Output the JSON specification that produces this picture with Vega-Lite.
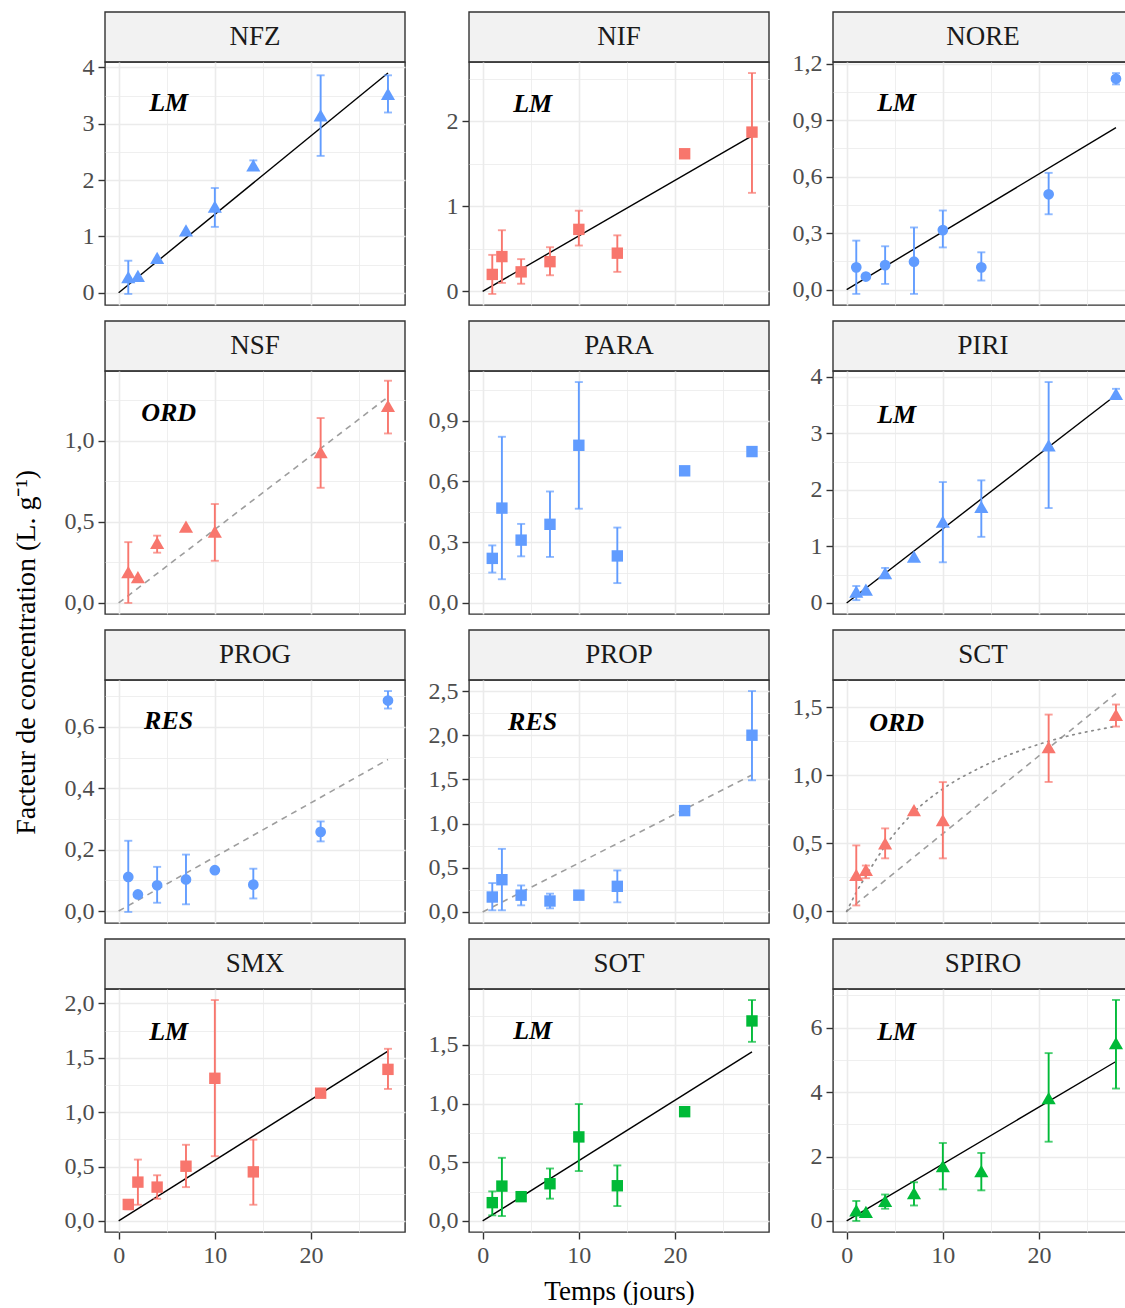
{
"$schema": "https://vega.github.io/schema/vega-lite/v6.json",
"padding": {"left": 13, "top": 0, "right": 0, "bottom": 0},
"title": {"text": "Facteur de concentration (L. g⁻¹)", "orient": "left", "anchor": "middle", "font": "Liberation Serif", "fontSize": 28, "fontWeight": "normal", "color": "#000000", "offset": 22},
"datasets": {
"p": [{"c":"NFZ"},{"c":"NIF"},{"c":"NORE"},{"c":"NSF"},{"c":"PARA"},{"c":"PIRI"},{"c":"PROG"},{"c":"PROP"},{"c":"SCT"},{"c":"SMX"},{"c":"SOT"},{"c":"SPIRO"}],
"d": [
{"c":"NFZ","k":"obs","t":1,"v":0.28,"lo":-0.02,"hi":0.57},
{"c":"NFZ","k":"obs","t":2,"v":0.30},
{"c":"NFZ","k":"obs","t":4,"v":0.62},
{"c":"NFZ","k":"obs","t":7,"v":1.11},
{"c":"NFZ","k":"obs","t":10,"v":1.53,"lo":1.17,"hi":1.86},
{"c":"NFZ","k":"obs","t":14,"v":2.26,"lo":2.21,"hi":2.35},
{"c":"NFZ","k":"obs","t":21,"v":3.15,"lo":2.43,"hi":3.86},
{"c":"NFZ","k":"obs","t":28,"v":3.53,"lo":3.2,"hi":3.86},
{"c":"NFZ","k":"fit","m":"lm","t":0,"v":0},
{"c":"NFZ","k":"fit","m":"lm","t":28,"v":3.9},
{"c":"NFZ","k":"lab","t":5.2,"v":3.37,"txt":"LM"},
{"c":"NIF","k":"obs","t":1,"v":0.2,"lo":-0.03,"hi":0.43},
{"c":"NIF","k":"obs","t":2,"v":0.41,"lo":0.1,"hi":0.72},
{"c":"NIF","k":"obs","t":4,"v":0.23,"lo":0.09,"hi":0.38},
{"c":"NIF","k":"obs","t":7,"v":0.35,"lo":0.19,"hi":0.52},
{"c":"NIF","k":"obs","t":10,"v":0.73,"lo":0.54,"hi":0.95},
{"c":"NIF","k":"obs","t":14,"v":0.45,"lo":0.23,"hi":0.66},
{"c":"NIF","k":"obs","t":21,"v":1.62},
{"c":"NIF","k":"obs","t":28,"v":1.875,"lo":1.16,"hi":2.57},
{"c":"NIF","k":"fit","m":"lm","t":0,"v":0},
{"c":"NIF","k":"fit","m":"lm","t":28,"v":1.83},
{"c":"NIF","k":"lab","t":5.2,"v":2.21,"txt":"LM"},
{"c":"NORE","k":"obs","t":1,"v":0.118,"lo":-0.023,"hi":0.26},
{"c":"NORE","k":"obs","t":2,"v":0.069},
{"c":"NORE","k":"obs","t":4,"v":0.13,"lo":0.03,"hi":0.23},
{"c":"NORE","k":"obs","t":7,"v":0.148,"lo":-0.023,"hi":0.33},
{"c":"NORE","k":"obs","t":10,"v":0.316,"lo":0.224,"hi":0.42},
{"c":"NORE","k":"obs","t":14,"v":0.118,"lo":0.048,"hi":0.198},
{"c":"NORE","k":"obs","t":21,"v":0.506,"lo":0.4,"hi":0.62},
{"c":"NORE","k":"obs","t":28,"v":1.12,"lo":1.09,"hi":1.15},
{"c":"NORE","k":"fit","m":"lm","t":0,"v":0},
{"c":"NORE","k":"fit","m":"lm","t":28,"v":0.86},
{"c":"NORE","k":"lab","t":5.2,"v":0.99,"txt":"LM"},
{"c":"NSF","k":"obs","t":1,"v":0.19,"lo":0.0,"hi":0.375},
{"c":"NSF","k":"obs","t":2,"v":0.16},
{"c":"NSF","k":"obs","t":4,"v":0.37,"lo":0.31,"hi":0.415},
{"c":"NSF","k":"obs","t":7,"v":0.47},
{"c":"NSF","k":"obs","t":10,"v":0.44,"lo":0.26,"hi":0.61},
{"c":"NSF","k":"obs","t":21,"v":0.93,"lo":0.71,"hi":1.14},
{"c":"NSF","k":"obs","t":28,"v":1.215,"lo":1.045,"hi":1.37},
{"c":"NSF","k":"fit","m":"dash","t":0,"v":0},
{"c":"NSF","k":"fit","m":"dash","t":28,"v":1.27},
{"c":"NSF","k":"lab","t":5.2,"v":1.17,"txt":"ORD"},
{"c":"PARA","k":"obs","t":1,"v":0.22,"lo":0.15,"hi":0.284},
{"c":"PARA","k":"obs","t":2,"v":0.468,"lo":0.117,"hi":0.82},
{"c":"PARA","k":"obs","t":4,"v":0.31,"lo":0.23,"hi":0.39},
{"c":"PARA","k":"obs","t":7,"v":0.388,"lo":0.227,"hi":0.55},
{"c":"PARA","k":"obs","t":10,"v":0.778,"lo":0.465,"hi":1.09},
{"c":"PARA","k":"obs","t":14,"v":0.232,"lo":0.098,"hi":0.372},
{"c":"PARA","k":"obs","t":21,"v":0.652},
{"c":"PARA","k":"obs","t":28,"v":0.747},
{"c":"PIRI","k":"obs","t":1,"v":0.2,"lo":0.05,"hi":0.3},
{"c":"PIRI","k":"obs","t":2,"v":0.235},
{"c":"PIRI","k":"obs","t":4,"v":0.53,"lo":0.44,"hi":0.62},
{"c":"PIRI","k":"obs","t":7,"v":0.82},
{"c":"PIRI","k":"obs","t":10,"v":1.44,"lo":0.72,"hi":2.14},
{"c":"PIRI","k":"obs","t":14,"v":1.7,"lo":1.17,"hi":2.17},
{"c":"PIRI","k":"obs","t":21,"v":2.79,"lo":1.68,"hi":3.91},
{"c":"PIRI","k":"obs","t":28,"v":3.7,"lo":3.61,"hi":3.79},
{"c":"PIRI","k":"fit","m":"lm","t":0,"v":0},
{"c":"PIRI","k":"fit","m":"lm","t":28,"v":3.68},
{"c":"PIRI","k":"lab","t":5.2,"v":3.32,"txt":"LM"},
{"c":"PROG","k":"obs","t":1,"v":0.111,"lo":-0.003,"hi":0.229},
{"c":"PROG","k":"obs","t":2,"v":0.054},
{"c":"PROG","k":"obs","t":4,"v":0.084,"lo":0.027,"hi":0.144},
{"c":"PROG","k":"obs","t":7,"v":0.103,"lo":0.022,"hi":0.184},
{"c":"PROG","k":"obs","t":10,"v":0.133},
{"c":"PROG","k":"obs","t":14,"v":0.086,"lo":0.041,"hi":0.138},
{"c":"PROG","k":"obs","t":21,"v":0.258,"lo":0.227,"hi":0.292},
{"c":"PROG","k":"obs","t":28,"v":0.686,"lo":0.66,"hi":0.717},
{"c":"PROG","k":"fit","m":"dash","t":0,"v":0},
{"c":"PROG","k":"fit","m":"dash","t":28,"v":0.494},
{"c":"PROG","k":"lab","t":5.2,"v":0.619,"txt":"RES"},
{"c":"PROP","k":"obs","t":1,"v":0.169,"lo":0.019,"hi":0.327},
{"c":"PROP","k":"obs","t":2,"v":0.365,"lo":0.019,"hi":0.714},
{"c":"PROP","k":"obs","t":4,"v":0.19,"lo":0.075,"hi":0.3},
{"c":"PROP","k":"obs","t":7,"v":0.124,"lo":0.041,"hi":0.207},
{"c":"PROP","k":"obs","t":10,"v":0.19},
{"c":"PROP","k":"obs","t":14,"v":0.29,"lo":0.109,"hi":0.47},
{"c":"PROP","k":"obs","t":21,"v":1.147},
{"c":"PROP","k":"obs","t":28,"v":2.0,"lo":1.49,"hi":2.5},
{"c":"PROP","k":"fit","m":"dash","t":0,"v":0},
{"c":"PROP","k":"fit","m":"dash","t":28,"v":1.55},
{"c":"PROP","k":"lab","t":5.2,"v":2.15,"txt":"RES"},
{"c":"SCT","k":"obs","t":1,"v":0.268,"lo":0.044,"hi":0.485},
{"c":"SCT","k":"obs","t":2,"v":0.305,"lo":0.244,"hi":0.337},
{"c":"SCT","k":"obs","t":4,"v":0.5,"lo":0.39,"hi":0.61},
{"c":"SCT","k":"obs","t":7,"v":0.744},
{"c":"SCT","k":"obs","t":10,"v":0.67,"lo":0.39,"hi":0.95},
{"c":"SCT","k":"obs","t":21,"v":1.207,"lo":0.951,"hi":1.446},
{"c":"SCT","k":"obs","t":28,"v":1.444,"lo":1.358,"hi":1.52},
{"c":"SCT","k":"fit","m":"dash","t":0,"v":0},
{"c":"SCT","k":"fit","m":"dash","t":28,"v":1.6},
{"c":"SCT","k":"fit","m":"dot","t":0,"v":0},
{"c":"SCT","k":"fit","m":"dot","t":1,"v":0.14},
{"c":"SCT","k":"fit","m":"dot","t":2,"v":0.26},
{"c":"SCT","k":"fit","m":"dot","t":4,"v":0.48},
{"c":"SCT","k":"fit","m":"dot","t":7,"v":0.73},
{"c":"SCT","k":"fit","m":"dot","t":10,"v":0.9},
{"c":"SCT","k":"fit","m":"dot","t":14,"v":1.06},
{"c":"SCT","k":"fit","m":"dot","t":21,"v":1.25},
{"c":"SCT","k":"fit","m":"dot","t":28,"v":1.36},
{"c":"SCT","k":"lab","t":5.2,"v":1.385,"txt":"ORD"},
{"c":"SMX","k":"obs","t":1,"v":0.152,"lo":0.107,"hi":0.19},
{"c":"SMX","k":"obs","t":2,"v":0.357,"lo":0.149,"hi":0.564},
{"c":"SMX","k":"obs","t":4,"v":0.311,"lo":0.204,"hi":0.42},
{"c":"SMX","k":"obs","t":7,"v":0.503,"lo":0.311,"hi":0.7},
{"c":"SMX","k":"obs","t":10,"v":1.311,"lo":0.595,"hi":2.03},
{"c":"SMX","k":"obs","t":14,"v":0.451,"lo":0.149,"hi":0.747},
{"c":"SMX","k":"obs","t":21,"v":1.174},
{"c":"SMX","k":"obs","t":28,"v":1.393,"lo":1.213,"hi":1.582},
{"c":"SMX","k":"fit","m":"lm","t":0,"v":0},
{"c":"SMX","k":"fit","m":"lm","t":28,"v":1.56},
{"c":"SMX","k":"lab","t":5.2,"v":1.74,"txt":"LM"},
{"c":"SOT","k":"obs","t":1,"v":0.156,"lo":0.048,"hi":0.252},
{"c":"SOT","k":"obs","t":2,"v":0.297,"lo":0.042,"hi":0.538},
{"c":"SOT","k":"obs","t":4,"v":0.207,"lo":0.17,"hi":0.24},
{"c":"SOT","k":"obs","t":7,"v":0.317,"lo":0.19,"hi":0.447},
{"c":"SOT","k":"obs","t":10,"v":0.716,"lo":0.425,"hi":0.996},
{"c":"SOT","k":"obs","t":14,"v":0.3,"lo":0.127,"hi":0.473},
{"c":"SOT","k":"obs","t":21,"v":0.931},
{"c":"SOT","k":"obs","t":28,"v":1.704,"lo":1.526,"hi":1.882},
{"c":"SOT","k":"fit","m":"lm","t":0,"v":0},
{"c":"SOT","k":"fit","m":"lm","t":28,"v":1.44},
{"c":"SOT","k":"lab","t":5.2,"v":1.615,"txt":"LM"},
{"c":"SPIRO","k":"obs","t":1,"v":0.33,"lo":0.0,"hi":0.62},
{"c":"SPIRO","k":"obs","t":2,"v":0.28},
{"c":"SPIRO","k":"obs","t":4,"v":0.62,"lo":0.38,"hi":0.82},
{"c":"SPIRO","k":"obs","t":7,"v":0.86,"lo":0.48,"hi":1.2},
{"c":"SPIRO","k":"obs","t":10,"v":1.7,"lo":0.98,"hi":2.42},
{"c":"SPIRO","k":"obs","t":14,"v":1.55,"lo":0.95,"hi":2.11},
{"c":"SPIRO","k":"obs","t":21,"v":3.81,"lo":2.46,"hi":5.21},
{"c":"SPIRO","k":"obs","t":28,"v":5.52,"lo":4.11,"hi":6.86},
{"c":"SPIRO","k":"fit","m":"lm","t":0,"v":0},
{"c":"SPIRO","k":"fit","m":"lm","t":28,"v":4.95},
{"c":"SPIRO","k":"lab","t":5.2,"v":5.87,"txt":"LM"}
]},
"columns": 3,
"spacing": {"row": 0, "column": 64},
"bounds": "flush",
"align": "each",
"concat": [
{"width": 300, "height": 62, "view": {"stroke": null}, "data": {"name": "p"}, "transform": [{"filter": "datum.c==='NFZ'"}], "layer": [
 {"mark": {"type": "rect", "fill": "#F2F2F2", "stroke": "#333333", "strokeWidth": 1.4}, "encoding": {"x": {"datum": 0, "type": "quantitative", "scale": {"domain": [0, 1], "nice": false}, "axis": null}, "x2": {"datum": 1}, "y": {"datum": 0, "type": "quantitative", "scale": {"domain": [0, 62], "nice": false}, "axis": null}, "y2": {"datum": 50}}},
 {"mark": {"type": "text", "fontSize": 27, "color": "#1A1A1A", "align": "center", "baseline": "middle"}, "encoding": {"y": {"datum": 25, "type": "quantitative"}, "text": {"field": "c"}}}]},
{"width": 300, "height": 62, "view": {"stroke": null}, "data": {"name": "p"}, "transform": [{"filter": "datum.c==='NIF'"}], "layer": [
 {"mark": {"type": "rect", "fill": "#F2F2F2", "stroke": "#333333", "strokeWidth": 1.4}, "encoding": {"x": {"datum": 0, "type": "quantitative", "scale": {"domain": [0, 1], "nice": false}, "axis": null}, "x2": {"datum": 1}, "y": {"datum": 0, "type": "quantitative", "scale": {"domain": [0, 62], "nice": false}, "axis": null}, "y2": {"datum": 50}}},
 {"mark": {"type": "text", "fontSize": 27, "color": "#1A1A1A", "align": "center", "baseline": "middle"}, "encoding": {"y": {"datum": 25, "type": "quantitative"}, "text": {"field": "c"}}}]},
{"width": 300, "height": 62, "view": {"stroke": null}, "data": {"name": "p"}, "transform": [{"filter": "datum.c==='NORE'"}], "layer": [
 {"mark": {"type": "rect", "fill": "#F2F2F2", "stroke": "#333333", "strokeWidth": 1.4}, "encoding": {"x": {"datum": 0, "type": "quantitative", "scale": {"domain": [0, 1], "nice": false}, "axis": null}, "x2": {"datum": 1}, "y": {"datum": 0, "type": "quantitative", "scale": {"domain": [0, 62], "nice": false}, "axis": null}, "y2": {"datum": 50}}},
 {"mark": {"type": "text", "fontSize": 27, "color": "#1A1A1A", "align": "center", "baseline": "middle"}, "encoding": {"y": {"datum": 25, "type": "quantitative"}, "text": {"field": "c"}}}]},
{"width": 300, "height": 243, "data": {"name": "d"}, "transform": [{"filter": "datum.c==='NFZ'"}],
  "encoding": {
   "x": {"field": "t", "type": "quantitative", "scale": {"domain": [-1.42, 29.77], "nice": false, "zero": false}, "axis": {"values": [0,5,10,15,20,25], "labels": false, "ticks": false, "title": null, "gridWidth": {"condition": {"test": "datum.value % 10 === 0", "value": 1.6}, "value": 0.8}}},
   "y": {"field": "v", "type": "quantitative", "scale": {"domain": [-0.216, 4.096], "nice": false, "zero": false}, "axis": {"title": null, "values": [0,0.5,1,1.5,2,2.5,3,3.5,4], "labelExpr": "abs(datum.value/1-round(datum.value/1))<0.01 ? format(datum.value,'d') : ''", "gridWidth": {"condition": {"test": "abs(datum.value/1-round(datum.value/1))<0.01", "value": 1.6}, "value": 0.8}, "tickOpacity": {"condition": {"test": "abs(datum.value/1-round(datum.value/1))<0.01", "value": 1}, "value": 0}}}
  },
  "layer": [
   {"transform": [{"filter": "datum.k==='fit' && datum.m==='lm'"}], "mark": {"type": "line", "color": "#000000", "strokeWidth": 1.4}, "encoding": {}},
   {"transform": [{"filter": "datum.k==='obs' && isValid(datum.lo)"}], "mark": {"type": "errorbar", "color": "#619CFF", "thickness": 1.9, "ticks": {"size": 8, "thickness": 1.9, "color": "#619CFF"}}, "encoding": {"y": {"field": "lo", "type": "quantitative", "title": null}, "y2": {"field": "hi"}}},
   {"transform": [{"filter": "datum.k==='obs'"}], "mark": {"type": "point", "shape": "triangle-up", "filled": true, "opacity": 1, "color": "#619CFF", "size": 200}},
   {"transform": [{"filter": "datum.k==='lab'"}], "mark": {"type": "text", "fontSize": 26, "fontStyle": "italic", "fontWeight": "bold", "color": "#000000", "align": "center", "baseline": "middle"}, "encoding": {"text": {"field": "txt"}}}
  ]},
{"width": 300, "height": 243, "data": {"name": "d"}, "transform": [{"filter": "datum.c==='NIF'"}],
  "encoding": {
   "x": {"field": "t", "type": "quantitative", "scale": {"domain": [-1.42, 29.77], "nice": false, "zero": false}, "axis": {"values": [0,5,10,15,20,25], "labels": false, "ticks": false, "title": null, "gridWidth": {"condition": {"test": "datum.value % 10 === 0", "value": 1.6}, "value": 0.8}}},
   "y": {"field": "v", "type": "quantitative", "scale": {"domain": [-0.16, 2.70], "nice": false, "zero": false}, "axis": {"title": null, "values": [0,0.5,1,1.5,2,2.5], "labelExpr": "abs(datum.value/1-round(datum.value/1))<0.01 ? format(datum.value,'d') : ''", "gridWidth": {"condition": {"test": "abs(datum.value/1-round(datum.value/1))<0.01", "value": 1.6}, "value": 0.8}, "tickOpacity": {"condition": {"test": "abs(datum.value/1-round(datum.value/1))<0.01", "value": 1}, "value": 0}}}
  },
  "layer": [
   {"transform": [{"filter": "datum.k==='fit' && datum.m==='lm'"}], "mark": {"type": "line", "color": "#000000", "strokeWidth": 1.4}, "encoding": {}},
   {"transform": [{"filter": "datum.k==='obs' && isValid(datum.lo)"}], "mark": {"type": "errorbar", "color": "#F8766D", "thickness": 1.9, "ticks": {"size": 8, "thickness": 1.9, "color": "#F8766D"}}, "encoding": {"y": {"field": "lo", "type": "quantitative", "title": null}, "y2": {"field": "hi"}}},
   {"transform": [{"filter": "datum.k==='obs'"}], "mark": {"type": "point", "shape": "square", "filled": true, "opacity": 1, "color": "#F8766D", "size": 130}},
   {"transform": [{"filter": "datum.k==='lab'"}], "mark": {"type": "text", "fontSize": 26, "fontStyle": "italic", "fontWeight": "bold", "color": "#000000", "align": "center", "baseline": "middle"}, "encoding": {"text": {"field": "txt"}}}
  ]},
{"width": 300, "height": 243, "data": {"name": "d"}, "transform": [{"filter": "datum.c==='NORE'"}],
  "encoding": {
   "x": {"field": "t", "type": "quantitative", "scale": {"domain": [-1.42, 29.77], "nice": false, "zero": false}, "axis": {"values": [0,5,10,15,20,25], "labels": false, "ticks": false, "title": null, "gridWidth": {"condition": {"test": "datum.value % 10 === 0", "value": 1.6}, "value": 0.8}}},
   "y": {"field": "v", "type": "quantitative", "scale": {"domain": [-0.082, 1.209], "nice": false, "zero": false}, "axis": {"title": null, "values": [0,0.15,0.3,0.45,0.6,0.75,0.9,1.05,1.2], "labelExpr": "abs(datum.value/0.3-round(datum.value/0.3))<0.01 ? replace(format(datum.value,'.1f'),'.',',') : ''", "gridWidth": {"condition": {"test": "abs(datum.value/0.3-round(datum.value/0.3))<0.01", "value": 1.6}, "value": 0.8}, "tickOpacity": {"condition": {"test": "abs(datum.value/0.3-round(datum.value/0.3))<0.01", "value": 1}, "value": 0}}}
  },
  "layer": [
   {"transform": [{"filter": "datum.k==='fit' && datum.m==='lm'"}], "mark": {"type": "line", "color": "#000000", "strokeWidth": 1.4}, "encoding": {}},
   {"transform": [{"filter": "datum.k==='obs' && isValid(datum.lo)"}], "mark": {"type": "errorbar", "color": "#619CFF", "thickness": 1.9, "ticks": {"size": 8, "thickness": 1.9, "color": "#619CFF"}}, "encoding": {"y": {"field": "lo", "type": "quantitative", "title": null}, "y2": {"field": "hi"}}},
   {"transform": [{"filter": "datum.k==='obs'"}], "mark": {"type": "point", "shape": "circle", "filled": true, "opacity": 1, "color": "#619CFF", "size": 115}},
   {"transform": [{"filter": "datum.k==='lab'"}], "mark": {"type": "text", "fontSize": 26, "fontStyle": "italic", "fontWeight": "bold", "color": "#000000", "align": "center", "baseline": "middle"}, "encoding": {"text": {"field": "txt"}}}
  ]},
{"width": 300, "height": 66, "view": {"stroke": null}, "data": {"name": "p"}, "transform": [{"filter": "datum.c==='NSF'"}], "layer": [
 {"mark": {"type": "rect", "fill": "#F2F2F2", "stroke": "#333333", "strokeWidth": 1.4}, "encoding": {"x": {"datum": 0, "type": "quantitative", "scale": {"domain": [0, 1], "nice": false}, "axis": null}, "x2": {"datum": 1}, "y": {"datum": 0, "type": "quantitative", "scale": {"domain": [0, 66], "nice": false}, "axis": null}, "y2": {"datum": 50}}},
 {"mark": {"type": "text", "fontSize": 27, "color": "#1A1A1A", "align": "center", "baseline": "middle"}, "encoding": {"y": {"datum": 25, "type": "quantitative"}, "text": {"field": "c"}}}]},
{"width": 300, "height": 66, "view": {"stroke": null}, "data": {"name": "p"}, "transform": [{"filter": "datum.c==='PARA'"}], "layer": [
 {"mark": {"type": "rect", "fill": "#F2F2F2", "stroke": "#333333", "strokeWidth": 1.4}, "encoding": {"x": {"datum": 0, "type": "quantitative", "scale": {"domain": [0, 1], "nice": false}, "axis": null}, "x2": {"datum": 1}, "y": {"datum": 0, "type": "quantitative", "scale": {"domain": [0, 66], "nice": false}, "axis": null}, "y2": {"datum": 50}}},
 {"mark": {"type": "text", "fontSize": 27, "color": "#1A1A1A", "align": "center", "baseline": "middle"}, "encoding": {"y": {"datum": 25, "type": "quantitative"}, "text": {"field": "c"}}}]},
{"width": 300, "height": 66, "view": {"stroke": null}, "data": {"name": "p"}, "transform": [{"filter": "datum.c==='PIRI'"}], "layer": [
 {"mark": {"type": "rect", "fill": "#F2F2F2", "stroke": "#333333", "strokeWidth": 1.4}, "encoding": {"x": {"datum": 0, "type": "quantitative", "scale": {"domain": [0, 1], "nice": false}, "axis": null}, "x2": {"datum": 1}, "y": {"datum": 0, "type": "quantitative", "scale": {"domain": [0, 66], "nice": false}, "axis": null}, "y2": {"datum": 50}}},
 {"mark": {"type": "text", "fontSize": 27, "color": "#1A1A1A", "align": "center", "baseline": "middle"}, "encoding": {"y": {"datum": 25, "type": "quantitative"}, "text": {"field": "c"}}}]},
{"width": 300, "height": 243, "data": {"name": "d"}, "transform": [{"filter": "datum.c==='NSF'"}],
  "encoding": {
   "x": {"field": "t", "type": "quantitative", "scale": {"domain": [-1.42, 29.77], "nice": false, "zero": false}, "axis": {"values": [0,5,10,15,20,25], "labels": false, "ticks": false, "title": null, "gridWidth": {"condition": {"test": "datum.value % 10 === 0", "value": 1.6}, "value": 0.8}}},
   "y": {"field": "v", "type": "quantitative", "scale": {"domain": [-0.068, 1.43], "nice": false, "zero": false}, "axis": {"title": null, "values": [0,0.25,0.5,0.75,1,1.25], "labelExpr": "abs(datum.value/0.5-round(datum.value/0.5))<0.01 ? replace(format(datum.value,'.1f'),'.',',') : ''", "gridWidth": {"condition": {"test": "abs(datum.value/0.5-round(datum.value/0.5))<0.01", "value": 1.6}, "value": 0.8}, "tickOpacity": {"condition": {"test": "abs(datum.value/0.5-round(datum.value/0.5))<0.01", "value": 1}, "value": 0}}}
  },
  "layer": [
   {"transform": [{"filter": "datum.k==='fit' && datum.m==='dash'"}], "mark": {"type": "line", "color": "#9E9E9E", "strokeWidth": 1.6, "strokeDash": [6, 5]}, "encoding": {}},
   {"transform": [{"filter": "datum.k==='obs' && isValid(datum.lo)"}], "mark": {"type": "errorbar", "color": "#F8766D", "thickness": 1.9, "ticks": {"size": 8, "thickness": 1.9, "color": "#F8766D"}}, "encoding": {"y": {"field": "lo", "type": "quantitative", "title": null}, "y2": {"field": "hi"}}},
   {"transform": [{"filter": "datum.k==='obs'"}], "mark": {"type": "point", "shape": "triangle-up", "filled": true, "opacity": 1, "color": "#F8766D", "size": 200}},
   {"transform": [{"filter": "datum.k==='lab'"}], "mark": {"type": "text", "fontSize": 26, "fontStyle": "italic", "fontWeight": "bold", "color": "#000000", "align": "center", "baseline": "middle"}, "encoding": {"text": {"field": "txt"}}}
  ]},
{"width": 300, "height": 243, "data": {"name": "d"}, "transform": [{"filter": "datum.c==='PARA'"}],
  "encoding": {
   "x": {"field": "t", "type": "quantitative", "scale": {"domain": [-1.42, 29.77], "nice": false, "zero": false}, "axis": {"values": [0,5,10,15,20,25], "labels": false, "ticks": false, "title": null, "gridWidth": {"condition": {"test": "datum.value % 10 === 0", "value": 1.6}, "value": 0.8}}},
   "y": {"field": "v", "type": "quantitative", "scale": {"domain": [-0.0545, 1.1445], "nice": false, "zero": false}, "axis": {"title": null, "values": [0,0.15,0.3,0.45,0.6,0.75,0.9,1.05], "labelExpr": "abs(datum.value/0.3-round(datum.value/0.3))<0.01 ? replace(format(datum.value,'.1f'),'.',',') : ''", "gridWidth": {"condition": {"test": "abs(datum.value/0.3-round(datum.value/0.3))<0.01", "value": 1.6}, "value": 0.8}, "tickOpacity": {"condition": {"test": "abs(datum.value/0.3-round(datum.value/0.3))<0.01", "value": 1}, "value": 0}}}
  },
  "layer": [
   {"transform": [{"filter": "datum.k==='obs' && isValid(datum.lo)"}], "mark": {"type": "errorbar", "color": "#619CFF", "thickness": 1.9, "ticks": {"size": 8, "thickness": 1.9, "color": "#619CFF"}}, "encoding": {"y": {"field": "lo", "type": "quantitative", "title": null}, "y2": {"field": "hi"}}},
   {"transform": [{"filter": "datum.k==='obs'"}], "mark": {"type": "point", "shape": "square", "filled": true, "opacity": 1, "color": "#619CFF", "size": 130}}
  ]},
{"width": 300, "height": 243, "data": {"name": "d"}, "transform": [{"filter": "datum.c==='PIRI'"}],
  "encoding": {
   "x": {"field": "t", "type": "quantitative", "scale": {"domain": [-1.42, 29.77], "nice": false, "zero": false}, "axis": {"values": [0,5,10,15,20,25], "labels": false, "ticks": false, "title": null, "gridWidth": {"condition": {"test": "datum.value % 10 === 0", "value": 1.6}, "value": 0.8}}},
   "y": {"field": "v", "type": "quantitative", "scale": {"domain": [-0.1955, 4.1055], "nice": false, "zero": false}, "axis": {"title": null, "values": [0,0.5,1,1.5,2,2.5,3,3.5,4], "labelExpr": "abs(datum.value/1-round(datum.value/1))<0.01 ? format(datum.value,'d') : ''", "gridWidth": {"condition": {"test": "abs(datum.value/1-round(datum.value/1))<0.01", "value": 1.6}, "value": 0.8}, "tickOpacity": {"condition": {"test": "abs(datum.value/1-round(datum.value/1))<0.01", "value": 1}, "value": 0}}}
  },
  "layer": [
   {"transform": [{"filter": "datum.k==='fit' && datum.m==='lm'"}], "mark": {"type": "line", "color": "#000000", "strokeWidth": 1.4}, "encoding": {}},
   {"transform": [{"filter": "datum.k==='obs' && isValid(datum.lo)"}], "mark": {"type": "errorbar", "color": "#619CFF", "thickness": 1.9, "ticks": {"size": 8, "thickness": 1.9, "color": "#619CFF"}}, "encoding": {"y": {"field": "lo", "type": "quantitative", "title": null}, "y2": {"field": "hi"}}},
   {"transform": [{"filter": "datum.k==='obs'"}], "mark": {"type": "point", "shape": "triangle-up", "filled": true, "opacity": 1, "color": "#619CFF", "size": 200}},
   {"transform": [{"filter": "datum.k==='lab'"}], "mark": {"type": "text", "fontSize": 26, "fontStyle": "italic", "fontWeight": "bold", "color": "#000000", "align": "center", "baseline": "middle"}, "encoding": {"text": {"field": "txt"}}}
  ]},
{"width": 300, "height": 66, "view": {"stroke": null}, "data": {"name": "p"}, "transform": [{"filter": "datum.c==='PROG'"}], "layer": [
 {"mark": {"type": "rect", "fill": "#F2F2F2", "stroke": "#333333", "strokeWidth": 1.4}, "encoding": {"x": {"datum": 0, "type": "quantitative", "scale": {"domain": [0, 1], "nice": false}, "axis": null}, "x2": {"datum": 1}, "y": {"datum": 0, "type": "quantitative", "scale": {"domain": [0, 66], "nice": false}, "axis": null}, "y2": {"datum": 50}}},
 {"mark": {"type": "text", "fontSize": 27, "color": "#1A1A1A", "align": "center", "baseline": "middle"}, "encoding": {"y": {"datum": 25, "type": "quantitative"}, "text": {"field": "c"}}}]},
{"width": 300, "height": 66, "view": {"stroke": null}, "data": {"name": "p"}, "transform": [{"filter": "datum.c==='PROP'"}], "layer": [
 {"mark": {"type": "rect", "fill": "#F2F2F2", "stroke": "#333333", "strokeWidth": 1.4}, "encoding": {"x": {"datum": 0, "type": "quantitative", "scale": {"domain": [0, 1], "nice": false}, "axis": null}, "x2": {"datum": 1}, "y": {"datum": 0, "type": "quantitative", "scale": {"domain": [0, 66], "nice": false}, "axis": null}, "y2": {"datum": 50}}},
 {"mark": {"type": "text", "fontSize": 27, "color": "#1A1A1A", "align": "center", "baseline": "middle"}, "encoding": {"y": {"datum": 25, "type": "quantitative"}, "text": {"field": "c"}}}]},
{"width": 300, "height": 66, "view": {"stroke": null}, "data": {"name": "p"}, "transform": [{"filter": "datum.c==='SCT'"}], "layer": [
 {"mark": {"type": "rect", "fill": "#F2F2F2", "stroke": "#333333", "strokeWidth": 1.4}, "encoding": {"x": {"datum": 0, "type": "quantitative", "scale": {"domain": [0, 1], "nice": false}, "axis": null}, "x2": {"datum": 1}, "y": {"datum": 0, "type": "quantitative", "scale": {"domain": [0, 66], "nice": false}, "axis": null}, "y2": {"datum": 50}}},
 {"mark": {"type": "text", "fontSize": 27, "color": "#1A1A1A", "align": "center", "baseline": "middle"}, "encoding": {"y": {"datum": 25, "type": "quantitative"}, "text": {"field": "c"}}}]},
{"width": 300, "height": 243, "data": {"name": "d"}, "transform": [{"filter": "datum.c==='PROG'"}],
  "encoding": {
   "x": {"field": "t", "type": "quantitative", "scale": {"domain": [-1.42, 29.77], "nice": false, "zero": false}, "axis": {"values": [0,5,10,15,20,25], "labels": false, "ticks": false, "title": null, "gridWidth": {"condition": {"test": "datum.value % 10 === 0", "value": 1.6}, "value": 0.8}}},
   "y": {"field": "v", "type": "quantitative", "scale": {"domain": [-0.039, 0.753], "nice": false, "zero": false}, "axis": {"title": null, "values": [0,0.1,0.2,0.3,0.4,0.5,0.6,0.7], "labelExpr": "abs(datum.value/0.2-round(datum.value/0.2))<0.01 ? replace(format(datum.value,'.1f'),'.',',') : ''", "gridWidth": {"condition": {"test": "abs(datum.value/0.2-round(datum.value/0.2))<0.01", "value": 1.6}, "value": 0.8}, "tickOpacity": {"condition": {"test": "abs(datum.value/0.2-round(datum.value/0.2))<0.01", "value": 1}, "value": 0}}}
  },
  "layer": [
   {"transform": [{"filter": "datum.k==='fit' && datum.m==='dash'"}], "mark": {"type": "line", "color": "#9E9E9E", "strokeWidth": 1.6, "strokeDash": [6, 5]}, "encoding": {}},
   {"transform": [{"filter": "datum.k==='obs' && isValid(datum.lo)"}], "mark": {"type": "errorbar", "color": "#619CFF", "thickness": 1.9, "ticks": {"size": 8, "thickness": 1.9, "color": "#619CFF"}}, "encoding": {"y": {"field": "lo", "type": "quantitative", "title": null}, "y2": {"field": "hi"}}},
   {"transform": [{"filter": "datum.k==='obs'"}], "mark": {"type": "point", "shape": "circle", "filled": true, "opacity": 1, "color": "#619CFF", "size": 115}},
   {"transform": [{"filter": "datum.k==='lab'"}], "mark": {"type": "text", "fontSize": 26, "fontStyle": "italic", "fontWeight": "bold", "color": "#000000", "align": "center", "baseline": "middle"}, "encoding": {"text": {"field": "txt"}}}
  ]},
{"width": 300, "height": 243, "data": {"name": "d"}, "transform": [{"filter": "datum.c==='PROP'"}],
  "encoding": {
   "x": {"field": "t", "type": "quantitative", "scale": {"domain": [-1.42, 29.77], "nice": false, "zero": false}, "axis": {"values": [0,5,10,15,20,25], "labels": false, "ticks": false, "title": null, "gridWidth": {"condition": {"test": "datum.value % 10 === 0", "value": 1.6}, "value": 0.8}}},
   "y": {"field": "v", "type": "quantitative", "scale": {"domain": [-0.125, 2.625], "nice": false, "zero": false}, "axis": {"title": null, "values": [0,0.25,0.5,0.75,1,1.25,1.5,1.75,2,2.25,2.5], "labelExpr": "abs(datum.value/0.5-round(datum.value/0.5))<0.01 ? replace(format(datum.value,'.1f'),'.',',') : ''", "gridWidth": {"condition": {"test": "abs(datum.value/0.5-round(datum.value/0.5))<0.01", "value": 1.6}, "value": 0.8}, "tickOpacity": {"condition": {"test": "abs(datum.value/0.5-round(datum.value/0.5))<0.01", "value": 1}, "value": 0}}}
  },
  "layer": [
   {"transform": [{"filter": "datum.k==='fit' && datum.m==='dash'"}], "mark": {"type": "line", "color": "#9E9E9E", "strokeWidth": 1.6, "strokeDash": [6, 5]}, "encoding": {}},
   {"transform": [{"filter": "datum.k==='obs' && isValid(datum.lo)"}], "mark": {"type": "errorbar", "color": "#619CFF", "thickness": 1.9, "ticks": {"size": 8, "thickness": 1.9, "color": "#619CFF"}}, "encoding": {"y": {"field": "lo", "type": "quantitative", "title": null}, "y2": {"field": "hi"}}},
   {"transform": [{"filter": "datum.k==='obs'"}], "mark": {"type": "point", "shape": "square", "filled": true, "opacity": 1, "color": "#619CFF", "size": 130}},
   {"transform": [{"filter": "datum.k==='lab'"}], "mark": {"type": "text", "fontSize": 26, "fontStyle": "italic", "fontWeight": "bold", "color": "#000000", "align": "center", "baseline": "middle"}, "encoding": {"text": {"field": "txt"}}}
  ]},
{"width": 300, "height": 243, "data": {"name": "d"}, "transform": [{"filter": "datum.c==='SCT'"}],
  "encoding": {
   "x": {"field": "t", "type": "quantitative", "scale": {"domain": [-1.42, 29.77], "nice": false, "zero": false}, "axis": {"values": [0,5,10,15,20,25], "labels": false, "ticks": false, "title": null, "gridWidth": {"condition": {"test": "datum.value % 10 === 0", "value": 1.6}, "value": 0.8}}},
   "y": {"field": "v", "type": "quantitative", "scale": {"domain": [-0.085, 1.70], "nice": false, "zero": false}, "axis": {"title": null, "values": [0,0.25,0.5,0.75,1,1.25,1.5], "labelExpr": "abs(datum.value/0.5-round(datum.value/0.5))<0.01 ? replace(format(datum.value,'.1f'),'.',',') : ''", "gridWidth": {"condition": {"test": "abs(datum.value/0.5-round(datum.value/0.5))<0.01", "value": 1.6}, "value": 0.8}, "tickOpacity": {"condition": {"test": "abs(datum.value/0.5-round(datum.value/0.5))<0.01", "value": 1}, "value": 0}}}
  },
  "layer": [
   {"transform": [{"filter": "datum.k==='fit' && datum.m==='dash'"}], "mark": {"type": "line", "color": "#9E9E9E", "strokeWidth": 1.6, "strokeDash": [6, 5]}, "encoding": {}},
   {"transform": [{"filter": "datum.k==='fit' && datum.m==='dot'"}], "mark": {"type": "line", "color": "#8A8A8A", "strokeWidth": 1.7, "strokeDash": [1.5, 5], "strokeCap": "round", "interpolate": "monotone"}, "encoding": {}},
   {"transform": [{"filter": "datum.k==='obs' && isValid(datum.lo)"}], "mark": {"type": "errorbar", "color": "#F8766D", "thickness": 1.9, "ticks": {"size": 8, "thickness": 1.9, "color": "#F8766D"}}, "encoding": {"y": {"field": "lo", "type": "quantitative", "title": null}, "y2": {"field": "hi"}}},
   {"transform": [{"filter": "datum.k==='obs'"}], "mark": {"type": "point", "shape": "triangle-up", "filled": true, "opacity": 1, "color": "#F8766D", "size": 200}},
   {"transform": [{"filter": "datum.k==='lab'"}], "mark": {"type": "text", "fontSize": 26, "fontStyle": "italic", "fontWeight": "bold", "color": "#000000", "align": "center", "baseline": "middle"}, "encoding": {"text": {"field": "txt"}}}
  ]},
{"width": 300, "height": 66, "view": {"stroke": null}, "data": {"name": "p"}, "transform": [{"filter": "datum.c==='SMX'"}], "layer": [
 {"mark": {"type": "rect", "fill": "#F2F2F2", "stroke": "#333333", "strokeWidth": 1.4}, "encoding": {"x": {"datum": 0, "type": "quantitative", "scale": {"domain": [0, 1], "nice": false}, "axis": null}, "x2": {"datum": 1}, "y": {"datum": 0, "type": "quantitative", "scale": {"domain": [0, 66], "nice": false}, "axis": null}, "y2": {"datum": 50}}},
 {"mark": {"type": "text", "fontSize": 27, "color": "#1A1A1A", "align": "center", "baseline": "middle"}, "encoding": {"y": {"datum": 25, "type": "quantitative"}, "text": {"field": "c"}}}]},
{"width": 300, "height": 66, "view": {"stroke": null}, "data": {"name": "p"}, "transform": [{"filter": "datum.c==='SOT'"}], "layer": [
 {"mark": {"type": "rect", "fill": "#F2F2F2", "stroke": "#333333", "strokeWidth": 1.4}, "encoding": {"x": {"datum": 0, "type": "quantitative", "scale": {"domain": [0, 1], "nice": false}, "axis": null}, "x2": {"datum": 1}, "y": {"datum": 0, "type": "quantitative", "scale": {"domain": [0, 66], "nice": false}, "axis": null}, "y2": {"datum": 50}}},
 {"mark": {"type": "text", "fontSize": 27, "color": "#1A1A1A", "align": "center", "baseline": "middle"}, "encoding": {"y": {"datum": 25, "type": "quantitative"}, "text": {"field": "c"}}}]},
{"width": 300, "height": 66, "view": {"stroke": null}, "data": {"name": "p"}, "transform": [{"filter": "datum.c==='SPIRO'"}], "layer": [
 {"mark": {"type": "rect", "fill": "#F2F2F2", "stroke": "#333333", "strokeWidth": 1.4}, "encoding": {"x": {"datum": 0, "type": "quantitative", "scale": {"domain": [0, 1], "nice": false}, "axis": null}, "x2": {"datum": 1}, "y": {"datum": 0, "type": "quantitative", "scale": {"domain": [0, 66], "nice": false}, "axis": null}, "y2": {"datum": 50}}},
 {"mark": {"type": "text", "fontSize": 27, "color": "#1A1A1A", "align": "center", "baseline": "middle"}, "encoding": {"y": {"datum": 25, "type": "quantitative"}, "text": {"field": "c"}}}]},
{"width": 300, "height": 243, "data": {"name": "d"}, "transform": [{"filter": "datum.c==='SMX'"}],
  "encoding": {
   "x": {"field": "t", "type": "quantitative", "scale": {"domain": [-1.42, 29.77], "nice": false, "zero": false}, "axis": {"values": [0,5,10,15,20,25], "title": null, "labelExpr": "datum.value % 10 === 0 ? datum.label : ''", "tickOpacity": {"condition": {"test": "datum.value % 10 === 0", "value": 1}, "value": 0}, "gridWidth": {"condition": {"test": "datum.value % 10 === 0", "value": 1.6}, "value": 0.8}}},
   "y": {"field": "v", "type": "quantitative", "scale": {"domain": [-0.1015, 2.1315], "nice": false, "zero": false}, "axis": {"title": null, "values": [0,0.25,0.5,0.75,1,1.25,1.5,1.75,2], "labelExpr": "abs(datum.value/0.5-round(datum.value/0.5))<0.01 ? replace(format(datum.value,'.1f'),'.',',') : ''", "gridWidth": {"condition": {"test": "abs(datum.value/0.5-round(datum.value/0.5))<0.01", "value": 1.6}, "value": 0.8}, "tickOpacity": {"condition": {"test": "abs(datum.value/0.5-round(datum.value/0.5))<0.01", "value": 1}, "value": 0}}}
  },
  "layer": [
   {"transform": [{"filter": "datum.k==='fit' && datum.m==='lm'"}], "mark": {"type": "line", "color": "#000000", "strokeWidth": 1.4}, "encoding": {}},
   {"transform": [{"filter": "datum.k==='obs' && isValid(datum.lo)"}], "mark": {"type": "errorbar", "color": "#F8766D", "thickness": 1.9, "ticks": {"size": 8, "thickness": 1.9, "color": "#F8766D"}}, "encoding": {"y": {"field": "lo", "type": "quantitative", "title": null}, "y2": {"field": "hi"}}},
   {"transform": [{"filter": "datum.k==='obs'"}], "mark": {"type": "point", "shape": "square", "filled": true, "opacity": 1, "color": "#F8766D", "size": 130}},
   {"transform": [{"filter": "datum.k==='lab'"}], "mark": {"type": "text", "fontSize": 26, "fontStyle": "italic", "fontWeight": "bold", "color": "#000000", "align": "center", "baseline": "middle"}, "encoding": {"text": {"field": "txt"}}}
  ]},
{"width": 300, "height": 243, "data": {"name": "d"}, "transform": [{"filter": "datum.c==='SOT'"}],
  "encoding": {
   "x": {"field": "t", "type": "quantitative", "scale": {"domain": [-1.42, 29.77], "nice": false, "zero": false}, "axis": {"values": [0,5,10,15,20,25], "title": "Temps (jours)", "labelExpr": "datum.value % 10 === 0 ? datum.label : ''", "tickOpacity": {"condition": {"test": "datum.value % 10 === 0", "value": 1}, "value": 0}, "gridWidth": {"condition": {"test": "datum.value % 10 === 0", "value": 1.6}, "value": 0.8}}},
   "y": {"field": "v", "type": "quantitative", "scale": {"domain": [-0.094, 1.976], "nice": false, "zero": false}, "axis": {"title": null, "values": [0,0.25,0.5,0.75,1,1.25,1.5,1.75], "labelExpr": "abs(datum.value/0.5-round(datum.value/0.5))<0.01 ? replace(format(datum.value,'.1f'),'.',',') : ''", "gridWidth": {"condition": {"test": "abs(datum.value/0.5-round(datum.value/0.5))<0.01", "value": 1.6}, "value": 0.8}, "tickOpacity": {"condition": {"test": "abs(datum.value/0.5-round(datum.value/0.5))<0.01", "value": 1}, "value": 0}}}
  },
  "layer": [
   {"transform": [{"filter": "datum.k==='fit' && datum.m==='lm'"}], "mark": {"type": "line", "color": "#000000", "strokeWidth": 1.4}, "encoding": {}},
   {"transform": [{"filter": "datum.k==='obs' && isValid(datum.lo)"}], "mark": {"type": "errorbar", "color": "#00BA38", "thickness": 1.9, "ticks": {"size": 8, "thickness": 1.9, "color": "#00BA38"}}, "encoding": {"y": {"field": "lo", "type": "quantitative", "title": null}, "y2": {"field": "hi"}}},
   {"transform": [{"filter": "datum.k==='obs'"}], "mark": {"type": "point", "shape": "square", "filled": true, "opacity": 1, "color": "#00BA38", "size": 130}},
   {"transform": [{"filter": "datum.k==='lab'"}], "mark": {"type": "text", "fontSize": 26, "fontStyle": "italic", "fontWeight": "bold", "color": "#000000", "align": "center", "baseline": "middle"}, "encoding": {"text": {"field": "txt"}}}
  ]},
{"width": 300, "height": 243, "data": {"name": "d"}, "transform": [{"filter": "datum.c==='SPIRO'"}],
  "encoding": {
   "x": {"field": "t", "type": "quantitative", "scale": {"domain": [-1.42, 29.77], "nice": false, "zero": false}, "axis": {"values": [0,5,10,15,20,25], "title": null, "labelExpr": "datum.value % 10 === 0 ? datum.label : ''", "tickOpacity": {"condition": {"test": "datum.value % 10 === 0", "value": 1}, "value": 0}, "gridWidth": {"condition": {"test": "datum.value % 10 === 0", "value": 1.6}, "value": 0.8}}},
   "y": {"field": "v", "type": "quantitative", "scale": {"domain": [-0.343, 7.2], "nice": false, "zero": false}, "axis": {"title": null, "values": [0,1,2,3,4,5,6,7], "labelExpr": "abs(datum.value/2-round(datum.value/2))<0.01 ? format(datum.value,'d') : ''", "gridWidth": {"condition": {"test": "abs(datum.value/2-round(datum.value/2))<0.01", "value": 1.6}, "value": 0.8}, "tickOpacity": {"condition": {"test": "abs(datum.value/2-round(datum.value/2))<0.01", "value": 1}, "value": 0}}}
  },
  "layer": [
   {"transform": [{"filter": "datum.k==='fit' && datum.m==='lm'"}], "mark": {"type": "line", "color": "#000000", "strokeWidth": 1.4}, "encoding": {}},
   {"transform": [{"filter": "datum.k==='obs' && isValid(datum.lo)"}], "mark": {"type": "errorbar", "color": "#00BA38", "thickness": 1.9, "ticks": {"size": 8, "thickness": 1.9, "color": "#00BA38"}}, "encoding": {"y": {"field": "lo", "type": "quantitative", "title": null}, "y2": {"field": "hi"}}},
   {"transform": [{"filter": "datum.k==='obs'"}], "mark": {"type": "point", "shape": "triangle-up", "filled": true, "opacity": 1, "color": "#00BA38", "size": 200}},
   {"transform": [{"filter": "datum.k==='lab'"}], "mark": {"type": "text", "fontSize": 26, "fontStyle": "italic", "fontWeight": "bold", "color": "#000000", "align": "center", "baseline": "middle"}, "encoding": {"text": {"field": "txt"}}}
  ]}
],
"config": {
 "font": "Liberation Serif",
 "view": {"stroke": "#333333", "strokeWidth": 1.4},
 "axis": {"grid": true, "gridColor": "#EBEBEB", "domain": false, "tickColor": "#333333", "tickSize": 7, "tickWidth": 1.4, "labelFont": "Liberation Serif", "labelFontSize": 24, "labelColor": "#4D4D4D", "labelPadding": 4, "titleFont": "Liberation Serif", "titleFontSize": 27, "titleFontWeight": "normal", "titleColor": "#000000", "titlePadding": 11}
}
}
